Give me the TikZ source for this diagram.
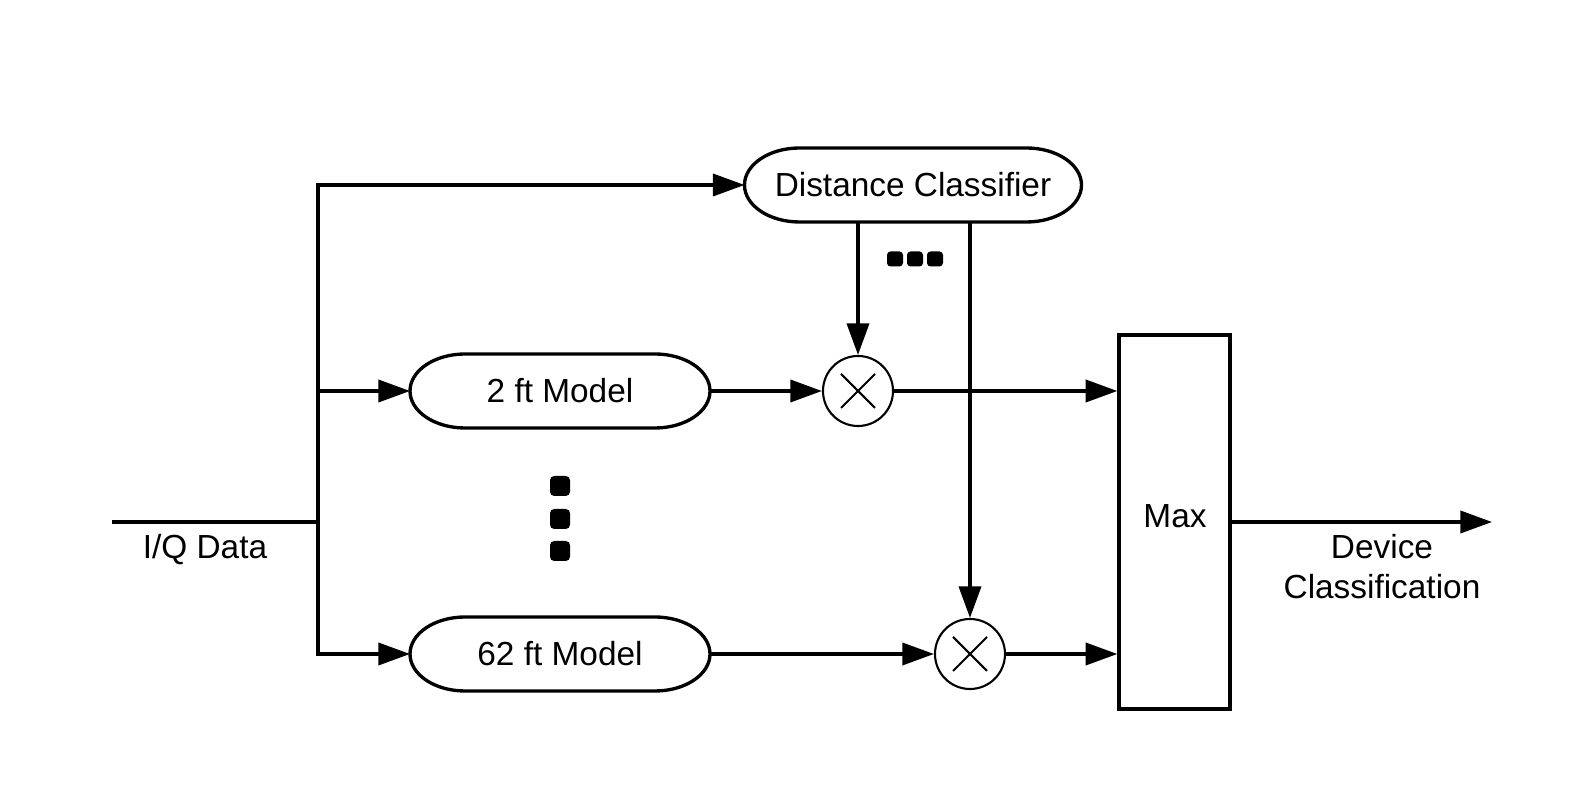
\documentclass[tikz,border=0pt]{standalone}
\usepackage{fontspec}
\setmainfont{Liberation Sans}
\usetikzlibrary{arrows.meta,calc}
\begin{document}
\begin{tikzpicture}[
  font=\fontsize{9.5}{11.4}\selectfont,
  line/.style={line width=0.95pt},
  arr/.style={line width=0.95pt,-{Triangle[length=9pt,width=6.3pt]}},
  pill/.style={minimum height=0.74cm,inner sep=0pt,outer sep=0pt},
  pillline/.style={line width=0.95pt,line join=round},
  mult/.style={circle,draw,line width=0.6pt,minimum size=0.7cm,inner sep=0pt},
  dotv/.style={fill=black,rounded corners=1.2pt,minimum size=0.2cm,inner sep=0pt},
  doth/.style={fill=black,rounded corners=1pt,minimum width=0.16cm,minimum height=0.15cm,inner sep=0pt},
  lbl/.style={align=center,inner sep=0pt}
]
\useasboundingbox (0,0) rectangle (15.75,7.88);
\def\rx{0.55}
\def\ry{0.37}
\node[pill,minimum width=3.37cm] (dc) at (9.13,6.03) {Distance Classifier};
\node[pill,minimum width=3.0cm] (m2ft) at (5.60,3.97) {2 ft Model};
\node[pill,minimum width=3.0cm] (m62ft) at (5.60,1.34) {62 ft Model};
\foreach \n in {dc,m2ft,m62ft}{
  \draw[pillline] ($(\n.north west)+(\rx,0)$) -- ($(\n.north east)+(-\rx,0)$)
    arc[start angle=90,end angle=-90,x radius=\rx,y radius=\ry]
    -- ($(\n.south west)+(\rx,0)$)
    arc[start angle=270,end angle=90,x radius=\rx,y radius=\ry] -- cycle;
}
\node[mult] (x1) at (8.58,3.97) {};
\node[mult] (x2) at (9.70,1.34) {};
\foreach \n in {x1,x2}{
  \draw[line width=0.6pt] ($(\n.center)+(-0.17,0.17)$) -- ($(\n.center)+(0.17,-0.17)$);
  \draw[line width=0.6pt] ($(\n.center)+(0.17,0.17)$) -- ($(\n.center)+(-0.17,-0.17)$);
}
\node[draw,line width=0.95pt,minimum width=1.11cm,minimum height=3.74cm,inner sep=0pt] (max) at (11.745,2.66) {};
\node[lbl] (maxt) at (11.75,2.72) {Max};
\coordinate (iq) at (1.12,2.66);
\coordinate (j) at (3.18,2.66);
\coordinate (out) at (14.92,2.66);
\node[lbl] (iqt) at (2.05,2.38) {I/Q Data};
\node[lbl] (outt) at (13.82,2.21) {Device\\Classification};
% dots
\node[dotv] (v1) at (5.60,3.02) {};
\node[dotv] (v2) at (5.60,2.69) {};
\node[dotv] (v3) at (5.60,2.37) {};
\node[doth] (h1) at (8.95,5.29) {};
\node[doth] (h2) at (9.15,5.29) {};
\node[doth] (h3) at (9.35,5.29) {};
% connectors
\draw[line] (iq) -- (j);
\draw[arr] (j) |- (dc.west);
\draw[arr] (j) |- (m62ft.west);
\draw[arr] (j |- m2ft.west) -- (m2ft.west);
\draw[arr] (m2ft.east) -- (x1.west);
\draw[arr] (m62ft.east) -- (x2.west);
\draw[arr] (x1.east) -- (x1.east -| max.west);
\draw[arr] (x2.east) -- (x2.east -| max.west);
\draw[arr] (dc.south -| x1.north) -- (x1.north);
\draw[arr] (dc.south -| x2.north) -- (x2.north);
\draw[arr] (max.east |- out) -- (out);
\end{tikzpicture}
\end{document}
